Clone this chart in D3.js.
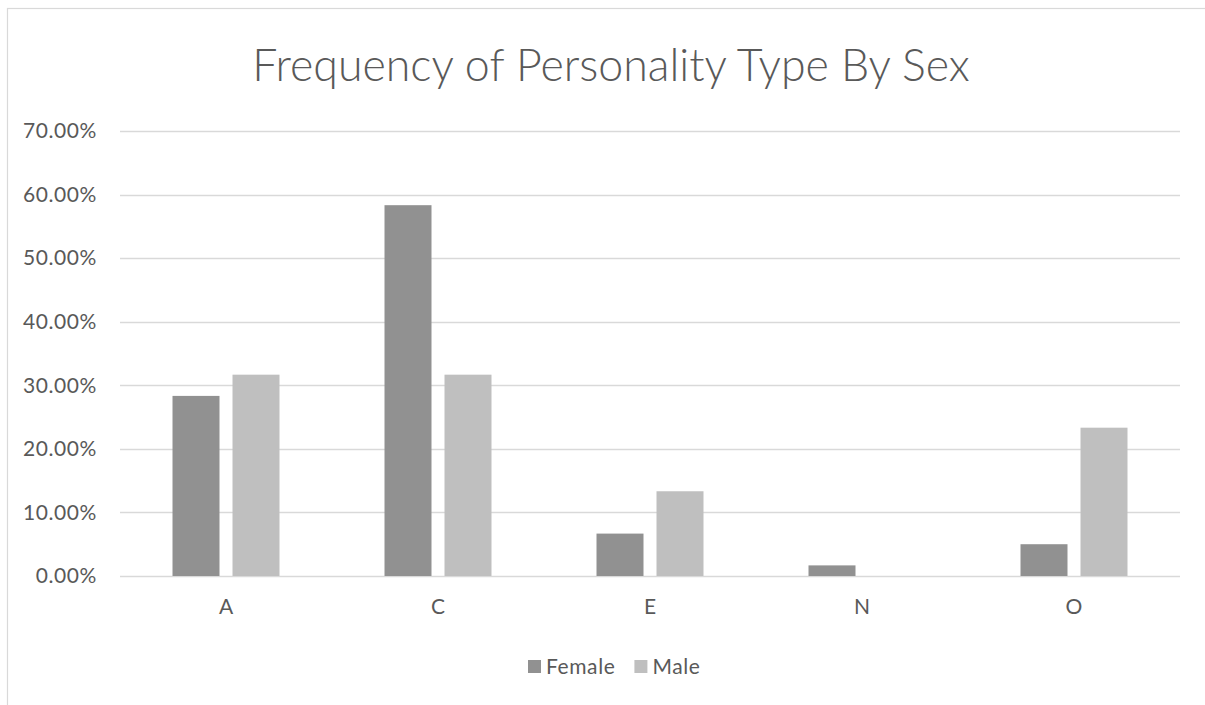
<!DOCTYPE html>
<html>
<head>
<meta charset="utf-8">
<script src="https://cdn.jsdelivr.net/npm/d3@7"></script>
<style>
  html, body { margin: 0; padding: 0; background: #ffffff; }
  svg { display: block; }
  text { font-family: Lato, "Open Sans", sans-serif; fill: #595959; }
</style>
</head>
<body>
<svg id="chart" width="1205" height="705"></svg>
<script>
// Personality type shares by sex
const categories = ["A", "C", "E", "N", "O"];
const seriesNames = ["Female", "Male"];
const femaleValues = [0.2833, 0.5833, 0.0667, 0.0167, 0.05];
const maleValues = [0.3167, 0.3167, 0.1333, 0, 0.2333];
const yTicks = [0, 0.1, 0.2, 0.3, 0.4, 0.5, 0.6, 0.7];
const titleText = "Frequency of Personality Type By Sex";

const colors = { Female: "#919191", Male: "#bfbfbf" };
const valuesBySeries = { Female: femaleValues, Male: maleValues };
const labelFont = 21;
const labelSpacing = "0.6px";

const svg = d3.select("#chart");
const W = 1205, H = 705;
const plot = { left: 120, right: 1180, top: 131, bottom: 576 };

// Outer chart frame
svg.append("rect")
  .attr("x", 7.5).attr("y", 8.5)
  .attr("width", W + 10).attr("height", H + 10)
  .attr("fill", "#ffffff").attr("stroke", "#d9d9d9").attr("stroke-width", 1.2);

const x0 = d3.scaleBand().domain(categories).range([plot.left, plot.right]).padding(0);
const x1 = d3.scaleBand().domain(seriesNames).range([0, x0.bandwidth()])
  .paddingInner(0.2167).paddingOuter(0.875);
const y = d3.scaleLinear().domain([0, 0.7]).range([plot.bottom, plot.top]);

// Gridlines
svg.append("g")
  .selectAll("line").data(yTicks).join("line")
  .attr("x1", plot.left).attr("x2", plot.right)
  .attr("y1", d => Math.round(y(d)) + 0.5).attr("y2", d => Math.round(y(d)) + 0.5)
  .attr("stroke", "#d9d9d9").attr("stroke-width", 1.3);

// Y axis labels
const yAxis = d3.axisLeft(y).tickValues(yTicks).tickSize(0).tickPadding(0)
  .tickFormat(d => (d * 100).toFixed(2) + "%");
svg.append("g").attr("transform", `translate(97,0)`).call(yAxis)
  .call(g => g.select(".domain").remove())
  .selectAll("text").attr("font-size", labelFont).attr("fill", "#595959")
  .style("letter-spacing", labelSpacing)
  .style("font-family", "Lato, 'Open Sans', sans-serif");

// Bars
const groups = svg.append("g").selectAll("g").data(categories).join("g")
  .attr("transform", d => `translate(${x0(d)},0)`);
groups.selectAll("rect")
  .data((c, i) => seriesNames.map(s => ({ s, v: valuesBySeries[s][i] })))
  .join("rect")
  .attr("x", d => x1(d.s))
  .attr("width", x1.bandwidth())
  .attr("y", d => y(d.v))
  .attr("height", d => y(0) - y(d.v))
  .attr("fill", d => colors[d.s]);

// X axis labels
const xAxis = d3.axisBottom(x0).tickSize(0).tickPadding(0);
svg.append("g").attr("transform", `translate(0,${plot.bottom + 23})`).call(xAxis)
  .call(g => g.select(".domain").remove())
  .selectAll("text").attr("font-size", labelFont).attr("fill", "#595959")
  .style("font-family", "Lato, 'Open Sans', sans-serif");

// Title
svg.append("text")
  .attr("x", 611).attr("y", 81)
  .attr("text-anchor", "middle")
  .attr("font-size", 44.7)
  .attr("font-weight", 300)
  .text(titleText);

// Legend
const legend = svg.append("g").attr("transform", "translate(528,660)");
let lx = 0;
seriesNames.forEach(s => {
  const g = legend.append("g").attr("transform", `translate(${lx},0)`);
  g.append("rect").attr("width", 13).attr("height", 13).attr("fill", colors[s]);
  const t = g.append("text").attr("x", 18).attr("y", 13.5)
    .attr("font-size", labelFont).style("letter-spacing", labelSpacing).text(s);
  lx += 18 + t.node().getComputedTextLength() + 19;
});
</script>
</body>
</html>
